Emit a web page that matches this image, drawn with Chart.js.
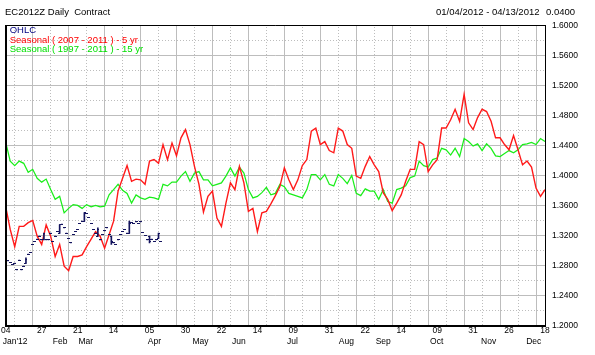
<!DOCTYPE html>
<html><head><meta charset="utf-8">
<script src="https://cdn.jsdelivr.net/npm/chart.js@4"></script>
<style>html,body{margin:0;padding:0;background:#fff}#wrap{width:595px;height:355px}</style>
</head><body><div id="wrap"><canvas id="c" width="595" height="355"></canvas></div>
<script>
// ---------- data ----------
const titleText = "EC2012Z Daily  Contract";
const rangeText = "01/04/2012 - 04/13/2012";
const stepText = "0.0400";
const dayTickLabels = ["04","27","21","14","05","30","22","14","09","31","22","14","09","31","26","18"];
const dayTickStep = 16;            // trading days between labelled ticks
const monthLabels = ["Jan'12","Feb","Mar","Apr","May","Jun","Jul","Aug","Sep","Oct","Nov","Dec"];
const monthPos = [4.2,24.2,35.6,66.2,86.7,103.8,127.6,151.6,168,191.8,214.9,235]; // trading-day index
const yMin = 1.2, yMax = 1.6, yStep = 0.02;
const seasonStep = 2;              // trading days between seasonal samples

const season5 = [1.358,1.328,1.305,1.332,1.332,1.337,1.340,1.319,1.308,1.334,
 1.319,1.292,1.308,1.279,1.273,1.292,1.292,1.294,1.305,1.315,
 1.325,1.319,1.303,1.321,1.339,1.379,1.396,1.413,1.392,1.395,
 1.394,1.388,1.419,1.421,1.416,1.441,1.421,1.443,1.426,1.450,
 1.461,1.441,1.412,1.388,1.351,1.372,1.379,1.343,1.332,1.363,
 1.390,1.381,1.412,1.390,1.352,1.356,1.325,1.350,1.352,1.362,
 1.373,1.385,1.410,1.394,1.381,1.394,1.413,1.421,1.459,1.463,
 1.441,1.445,1.433,1.430,1.463,1.459,1.441,1.436,1.399,1.396,
 1.412,1.425,1.414,1.405,1.377,1.368,1.353,1.363,1.374,1.392,
 1.408,1.408,1.445,1.441,1.405,1.414,1.421,1.463,1.463,1.474,
 1.488,1.472,1.508,1.470,1.461,1.477,1.488,1.485,1.472,1.450,
 1.450,1.441,1.434,1.453,1.434,1.414,1.419,1.411,1.383,1.372,
 1.381];

const season15 = [1.444,1.419,1.413,1.419,1.416,1.404,1.408,1.396,1.391,1.395,
 1.381,1.368,1.372,1.350,1.356,1.361,1.360,1.356,1.361,1.358,
 1.360,1.358,1.359,1.374,1.381,1.388,1.380,1.376,1.363,1.374,
 1.370,1.368,1.371,1.370,1.368,1.388,1.386,1.391,1.391,1.399,
 1.405,1.392,1.403,1.405,1.394,1.394,1.386,1.388,1.390,1.399,
 1.410,1.399,1.411,1.403,1.381,1.370,1.372,1.377,1.384,1.374,
 1.376,1.388,1.385,1.376,1.374,1.372,1.370,1.381,1.401,1.401,
 1.394,1.401,1.388,1.386,1.401,1.396,1.389,1.400,1.376,1.373,
 1.382,1.379,1.379,1.368,1.381,1.365,1.363,1.381,1.383,1.386,
 1.397,1.399,1.419,1.413,1.411,1.421,1.423,1.436,1.434,1.427,
 1.436,1.425,1.449,1.445,1.439,1.442,1.433,1.442,1.436,1.426,
 1.425,1.429,1.433,1.430,1.434,1.441,1.442,1.444,1.441,1.449,
 1.445];

const ohlcFirstDay = 1;
const ohlcOpen = [1.286,1.284,1.281,1.283,1.274,1.287,1.274,1.279,1.283,1.295,
 1.297,1.308,1.312,1.315,1.319,1.314,1.314,1.314,1.314,1.323,
 1.312,1.319,1.325,1.323,1.335,1.330,1.323,1.316,1.310,1.321,
 1.325,1.328,1.336,1.339,1.339,1.349,1.344,1.336,1.328,1.323,
 1.319,1.314,1.321,1.326,1.330,1.321,1.319,1.310,1.308,1.314,
 1.321,1.325,1.328,1.323,1.323,1.337,1.336,1.338,1.336,1.338,
 1.324,1.320,1.314,1.319,1.315,1.312,1.314,1.316,1.312];
const ohlcHigh = [1.286,1.284,1.281,1.283,1.274,1.287,1.274,1.279,1.290,1.295,
 1.297,1.308,1.312,1.315,1.319,1.314,1.323,1.314,1.314,1.323,
 1.312,1.319,1.325,1.334,1.335,1.330,1.323,1.316,1.310,1.321,
 1.325,1.328,1.336,1.339,1.350,1.349,1.344,1.336,1.328,1.323,
 1.330,1.314,1.321,1.326,1.330,1.321,1.319,1.310,1.308,1.314,
 1.321,1.325,1.328,1.323,1.339,1.337,1.336,1.338,1.336,1.338,
 1.324,1.320,1.314,1.319,1.315,1.312,1.314,1.323,1.312];
const ohlcLow = [1.286,1.284,1.281,1.283,1.274,1.287,1.274,1.279,1.283,1.295,
 1.297,1.308,1.312,1.315,1.319,1.314,1.314,1.314,1.314,1.323,
 1.312,1.319,1.325,1.323,1.335,1.330,1.323,1.316,1.310,1.321,
 1.325,1.328,1.336,1.339,1.339,1.349,1.344,1.336,1.328,1.323,
 1.319,1.314,1.321,1.326,1.330,1.321,1.308,1.310,1.308,1.314,
 1.321,1.325,1.328,1.323,1.323,1.337,1.336,1.338,1.336,1.338,
 1.324,1.320,1.314,1.310,1.315,1.312,1.314,1.316,1.312];
const ohlcClose = [1.286,1.284,1.281,1.283,1.274,1.287,1.274,1.279,1.288,1.295,
 1.297,1.308,1.312,1.315,1.319,1.314,1.323,1.314,1.314,1.323,
 1.312,1.319,1.325,1.334,1.335,1.330,1.323,1.316,1.310,1.321,
 1.325,1.328,1.336,1.339,1.350,1.349,1.344,1.336,1.328,1.323,
 1.328,1.314,1.321,1.326,1.330,1.321,1.312,1.310,1.308,1.314,
 1.321,1.325,1.328,1.323,1.336,1.337,1.336,1.338,1.336,1.338,
 1.324,1.320,1.314,1.312,1.315,1.312,1.314,1.323,1.312];

// ---------- style ----------
const FONT = '"Liberation Sans", Arial, sans-serif';
const NAVY = '#14145e';
const RED = '#ff1a1a';
const GREEN = '#1aee1a';
const GRID = '#bdbdbd';

const canvas = document.getElementById('c');
const ctx0 = canvas.getContext('2d');

function tickImg(open){
  const c = document.createElement('canvas');
  c.width = 3; c.height = 1;
  const g = c.getContext('2d');
  g.fillStyle = NAVY;
  g.fillRect(open ? 0 : 1, 0, 2, 1);
  return c;
}
// dotted grid pattern: one lit pixel every 3 along the line direction
function dotPattern(alongY){
  const c = document.createElement('canvas');
  c.width = alongY ? 1 : 3; c.height = alongY ? 3 : 1;
  const g = c.getContext('2d');
  g.fillStyle = GRID;
  g.fillRect(0, 0, 1, 1);
  return ctx0.createPattern(c, 'repeat');
}
const dotV = dotPattern(true);   // for vertical grid lines
const dotH = dotPattern(false);  // for horizontal grid lines

const xMax = (dayTickLabels.length - 1) * dayTickStep;
const ohlcDays = ohlcClose.map((_, i) => ohlcFirstDay + i);

const datasets = [
  { type:'line', label:'Seasonal ( 2007 - 2011 ) - 5 yr', legendColor: '#ff0000', legendOrder: 1,
    data: season5.map((v,k)=>({x:k*seasonStep, y:v})),
    borderColor: RED, borderWidth: 1.4, pointRadius: 0, tension: 0, order: 2 },
  { type:'line', label:'Seasonal ( 1997 - 2011 ) - 15 yr', legendColor: '#00e000', legendOrder: 2,
    data: season15.map((v,k)=>({x:k*seasonStep, y:v})),
    borderColor: GREEN, borderWidth: 1.25, pointRadius: 0, tension: 0, order: 3 },
  { type:'bar', label:'OHLC', legendColor: '#000080', legendOrder: 0,
    data: ohlcDays.map((d,i)=>({x:d, y:[ohlcLow[i], ohlcHigh[i]]})),
    backgroundColor: NAVY, barThickness: 1, grouped: false, order: 1 },
  { type:'line', label:'OHLC open', data: ohlcDays.map((d,i)=>({x:d, y:ohlcOpen[i]})),
    showLine: false, pointStyle: tickImg(true), pointRadius: 1.5, pointHoverRadius: 0, order: 0 },
  { type:'line', label:'OHLC close', data: ohlcDays.map((d,i)=>({x:d, y:ohlcClose[i]})),
    showLine: false, pointStyle: tickImg(false), pointRadius: 1.5, pointHoverRadius: 0, order: 0 }
];

const overlay = {
  id: 'overlay',
  afterDraw(chart){
    const {ctx, chartArea:a} = chart;
    const L = Math.round(a.left), T = Math.round(a.top), R = Math.round(a.right), B = Math.round(a.bottom);
    ctx.save();
    ctx.strokeStyle = '#000';
    ctx.lineWidth = 1;
    ctx.beginPath(); ctx.moveTo(L, T+0.5); ctx.lineTo(R+0.5, T+0.5); ctx.lineTo(R+0.5, B); ctx.stroke();
    ctx.lineWidth = 2;
    ctx.beginPath(); ctx.moveTo(L, T); ctx.lineTo(L, B+1); ctx.stroke();
    // legend
    ctx.font = '9.5px ' + FONT;
    ctx.textBaseline = 'middle';
    ctx.textAlign = 'left';
    chart.data.datasets.filter(d => d.legendColor)
      .sort((p,q)=>p.legendOrder-q.legendOrder)
      .forEach((d,i) => { ctx.fillStyle = d.legendColor; ctx.fillText(d.label, a.left + 4, a.top + 5.5 + i*9.5); });
    // header right
    ctx.fillStyle = '#000';
    ctx.textAlign = 'right';
    ctx.fillText(rangeText, a.right - 5.5, 12.6);
    ctx.textAlign = 'left';
    ctx.fillText(stepText, a.right + 1, 12.6);
    ctx.restore();
  }
};

new Chart(canvas, {
  type: 'line',
  data: { datasets },
  plugins: [overlay],
  options: {
    responsive: false, animation: false, events: [],
    devicePixelRatio: 1,
    layout: { padding: { left: 5, right: 0, top: 0, bottom: 0 } },
    plugins: {
      legend: { display: false },
      tooltip: { enabled: false },
      title: { display: true, text: titleText, align: 'start', color: '#000',
        font: { family: FONT, size: 9.5, weight: 'normal', lineHeight: 1.2 },
        padding: { top: 6.5, bottom: 7.3 } }
    },
    scales: {
      x: { type: 'linear', position: 'bottom', weight: 0, min: 0, max: xMax, offset: false,
        afterBuildTicks: s => { s.ticks = []; for (let v = 0; v <= xMax; v += dayTickStep/2) s.ticks.push({value: v}); },
        ticks: { autoSkip: false, maxRotation: 0, padding: 1, color: '#000',
          font: { family: FONT, size: 8.5, lineHeight: 1 },
          callback: v => (v % dayTickStep === 0) ? dayTickLabels[v / dayTickStep] : '' },
        grid: { lineWidth: 1, drawTicks: false,
          color: c => (c.tick && c.tick.value % dayTickStep) ? dotV : GRID },
        border: { color: '#000', width: 2 },
        afterFit: s => { s.height = 11; } },
      xm: { type: 'linear', axis: 'x', position: 'bottom', weight: 1, min: 0, max: xMax, offset: false,
        afterBuildTicks: s => { s.ticks = monthPos.map(v => ({value: v})); },
        ticks: { autoSkip: false, maxRotation: 0, padding: 1, color: '#000',
          font: { family: FONT, size: 8.5, lineHeight: 1 },
          callback: (v, i) => monthLabels[i] },
        grid: { display: false, drawTicks: false }, border: { display: false },
        afterFit: s => { s.height = 18.5; } },
      y: { type: 'linear', position: 'right', min: yMin, max: yMax,
        afterBuildTicks: s => { s.ticks = []; const n = Math.round((yMax - yMin)/yStep); for (let i = 0; i <= n; i++) s.ticks.push({value: yMin + i*yStep}); },
        ticks: { autoSkip: false, padding: 7, color: '#000',
          font: { family: FONT, size: 8.5 },
          callback: (v, i) => (i % 2 === 0) ? v.toFixed(4) : '' },
        grid: { lineWidth: 1, drawTicks: false,
          color: c => (c.index % 2) ? dotH : GRID },
        border: { color: '#000', width: 1 },
        afterFit: s => { s.height; s.width = 50; } }
    }
  }
});
</script></body></html>
